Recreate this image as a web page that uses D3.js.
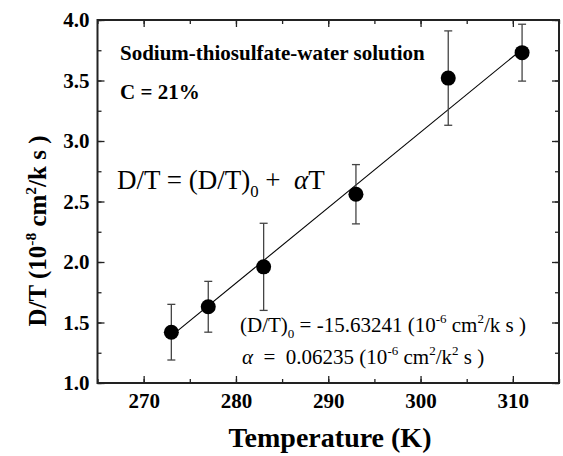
<!DOCTYPE html>
<html>
<head>
<meta charset="utf-8">
<script src="https://cdn.jsdelivr.net/npm/d3@7"></script>
<style>
  html, body { margin: 0; padding: 0; background: #fff; }
  svg { display: block; }
  text { font-family: "Liberation Serif", "Times New Roman", serif; fill: #000; }
</style>
</head>
<body>
<svg id="chart" width="563" height="456"></svg>
<script>
// Measured diffusion ratio D/T versus temperature
const temperatures = [273, 277, 283, 293, 303, 311];
const dOverT = [1.42, 1.63, 1.96, 2.56, 3.52, 3.73];
const errors = [0.23, 0.21, 0.36, 0.245, 0.39, 0.235];

// Linear fit coefficients: D/T = (D/T)0 + alpha * T
const intercept = -15.63241;
const alpha = 0.06235;

const xTicks = [270, 280, 290, 300, 310];
const yTicks = [1.0, 1.5, 2.0, 2.5, 3.0, 3.5, 4.0];

const SERIF = "'Liberation Serif', 'Times New Roman', serif";
const svg = d3.select("#chart");
const margin = { left: 97.5, top: 20, right: 4, bottom: 73 };
const W = 563, H = 456;
const x = d3.scaleLinear().domain([265, 315]).range([margin.left, W - margin.right]);
const y = d3.scaleLinear().domain([1.0, 4.0]).range([H - margin.bottom, margin.top]);

const axisColor = "#222";

// Axes: inward major + minor ticks on all four sides
function styleAxis(g) {
  g.attr("font-family", SERIF).attr("font-size", 21).attr("font-weight", "bold");
  g.select(".domain").remove();
  g.selectAll("line").attr("stroke", axisColor).attr("stroke-width", 1.3);
  g.selectAll("text").attr("fill", "#000");
}
const xMinor = d3.range(265, 316, 5);
const yMinor = d3.range(1.0, 4.01, 0.25);

// bottom
svg.append("g").attr("transform", `translate(0,${y(1.0)})`)
  .call(d3.axisBottom(x).tickValues(xMinor).tickSize(-4).tickFormat(""))
  .call(styleAxis);
svg.append("g").attr("transform", `translate(0,${y(1.0)})`)
  .call(d3.axisBottom(x).tickValues(xTicks).tickSize(-7).tickPadding(10).tickFormat(d3.format("d")))
  .call(styleAxis);
// top
svg.append("g").attr("transform", `translate(0,${y(4.0)})`)
  .call(d3.axisTop(x).tickValues(xMinor).tickSize(-4).tickFormat(""))
  .call(styleAxis);
svg.append("g").attr("transform", `translate(0,${y(4.0)})`)
  .call(d3.axisTop(x).tickValues(xTicks).tickSize(-7).tickFormat(""))
  .call(styleAxis);
// left
svg.append("g").attr("transform", `translate(${x(265)},0)`)
  .call(d3.axisLeft(y).tickValues(yMinor).tickSize(-4).tickFormat(""))
  .call(styleAxis);
svg.append("g").attr("transform", `translate(${x(265)},0)`)
  .call(d3.axisLeft(y).tickValues(yTicks).tickSize(-7).tickPadding(8).tickFormat(d3.format(".1f")))
  .call(styleAxis);
// right
svg.append("g").attr("transform", `translate(${x(315)},0)`)
  .call(d3.axisRight(y).tickValues(yMinor).tickSize(-4).tickFormat(""))
  .call(styleAxis);
svg.append("g").attr("transform", `translate(${x(315)},0)`)
  .call(d3.axisRight(y).tickValues(yTicks).tickSize(-7).tickFormat(""))
  .call(styleAxis);

// frame
svg.append("rect")
  .attr("x", x(265)).attr("y", y(4.0))
  .attr("width", x(315) - x(265)).attr("height", y(1.0) - y(4.0))
  .attr("fill", "none").attr("stroke", axisColor).attr("stroke-width", 2);

// fit line across the measured range
const tExt = d3.extent(temperatures);
svg.append("line")
  .attr("x1", x(tExt[0])).attr("y1", y(intercept + alpha * tExt[0]))
  .attr("x2", x(tExt[1])).attr("y2", y(intercept + alpha * tExt[1]))
  .attr("stroke", "#000").attr("stroke-width", 1.1);

// error bars
const data = temperatures.map((t, i) => ({ t, v: dOverT[i], e: errors[i] }));
const eb = svg.append("g").attr("stroke", "#444").attr("stroke-width", 1.3);
data.forEach(d => {
  eb.append("line").attr("x1", x(d.t)).attr("x2", x(d.t)).attr("y1", y(d.v - d.e)).attr("y2", y(d.v + d.e));
  [d.v - d.e, d.v + d.e].forEach(v => {
    eb.append("line").attr("x1", x(d.t) - 4).attr("x2", x(d.t) + 4).attr("y1", y(v)).attr("y2", y(v));
  });
});

// markers
svg.append("g").selectAll("circle").data(data).join("circle")
  .attr("cx", d => x(d.t)).attr("cy", d => y(d.v)).attr("r", 7.5).attr("fill", "#000");

// helper for text with sub/superscripts
function rich(sel, parts, size) {
  parts.forEach(p => {
    const t = sel.append("tspan").text(p.s);
    if (p.sup) t.attr("dy", -size * 0.42).style("font-size", (size * 0.62) + "px");
    else if (p.sub) t.attr("dy", size * 0.3).style("font-size", (size * 0.62) + "px");
    if (p.back) t.attr("dy", p.back);
    if (p.italic) t.style("font-style", "italic");
  });
}

// annotations
svg.append("text").attr("x", 120).attr("y", 60)
  .style("font-weight", "bold").style("font-size", "21px")
  .text("Sodium-thiosulfate-water solution");
svg.append("text").attr("x", 120).attr("y", 99)
  .style("font-weight", "bold").style("font-size", "21px")
  .text("C = 21%");

const eqSize = 27;
const eq = svg.append("text").attr("x", 117).attr("y", 189).style("font-size", eqSize + "px")
  .attr("xml:space", "preserve").style("white-space", "pre");
rich(eq, [
  { s: "D/T = (D/T)" },
  { s: "0", sub: true },
  { s: " +  ", back: -eqSize * 0.3 },
  { s: "\u03B1", italic: true },
  { s: "T" }
], eqSize);

const fs = 21;
const c1 = svg.append("text").attr("x", 240).attr("y", 332).style("font-size", fs + "px")
  .style("white-space", "pre");
rich(c1, [
  { s: "(D/T)" },
  { s: "0", sub: true },
  { s: " = -15.63241 (10", back: -fs * 0.3 },
  { s: "-6", sup: true },
  { s: " cm", back: fs * 0.42 },
  { s: "2", sup: true },
  { s: "/k s )", back: fs * 0.42 }
], fs);

const c2 = svg.append("text").attr("x", 242).attr("y", 364).style("font-size", fs + "px")
  .style("white-space", "pre");
rich(c2, [
  { s: "\u03B1", italic: true },
  { s: "  =  0.06235 (10" },
  { s: "-6", sup: true },
  { s: " cm", back: fs * 0.42 },
  { s: "2", sup: true },
  { s: "/k", back: fs * 0.42 },
  { s: "2", sup: true },
  { s: " s )", back: fs * 0.42 }
], fs);

// axis titles
svg.append("text")
  .attr("x", 330).attr("y", 447)
  .attr("text-anchor", "middle")
  .style("font-weight", "bold").style("font-size", "28px")
  .text("Temperature (K)");

const ylabSize = 25;
const ylab = svg.append("text")
  .attr("transform", `translate(46,231) rotate(-90)`)
  .attr("text-anchor", "middle")
  .style("font-weight", "bold").style("font-size", ylabSize + "px");
rich(ylab, [
  { s: "D/T (10" },
  { s: "-8", sup: true },
  { s: " cm", back: ylabSize * 0.42 },
  { s: "2", sup: true },
  { s: "/k s )", back: ylabSize * 0.42 }
], ylabSize);
</script>
</body>
</html>
